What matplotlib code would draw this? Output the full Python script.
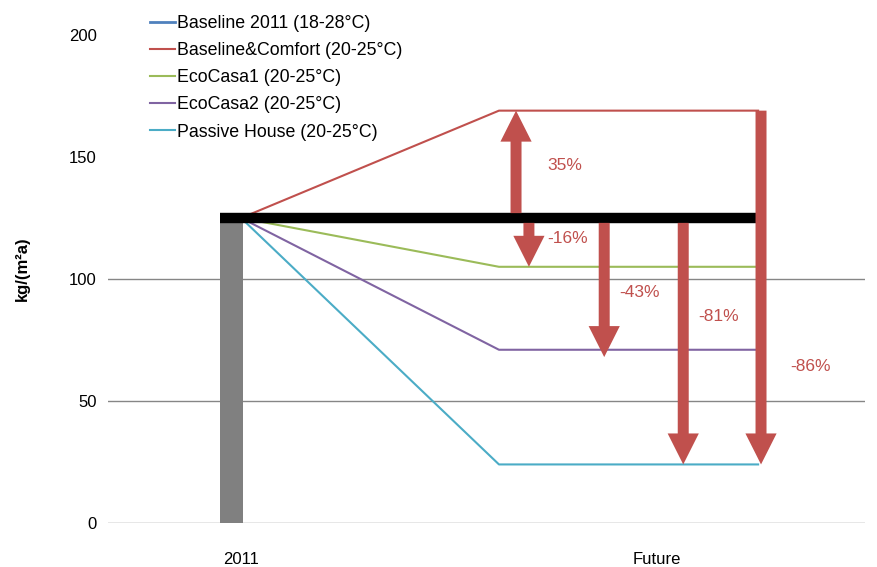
import numpy as np
import matplotlib
matplotlib.use("Agg")
import matplotlib.pyplot as plt

plt.rcParams['font.family'] = ['Liberation Sans', 'DejaVu Sans']

# data
categories   = ["2011", "Future"]
baseline2011 = 125
scenarios    = ["Baseline&Comfort (20-25°C)", "EcoCasa1 (20-25°C)",
                "EcoCasa2 (20-25°C)", "Passive House (20-25°C)"]
future_vals  = [169, 105, 71, 24]
colors       = ["#C0504D", "#9BBB59", "#8064A2", "#4BACC6"]
pct_labels   = ["35%", "-16%", "-43%", "-81%", "-86%"]

red = "#C0504D"

# x layout in category units (2011 = 0, Future = 1)
x_start, x_knee, x_end = 0.0, 0.62, 1.243
arrow_x = [0.661, 0.692, 0.873, 1.063, 1.25]

fig = plt.figure(figsize=(8.77, 5.67), dpi=100)
ax = fig.add_axes([108/877, 1 - 523/567, (865-108)/877, (523-35)/567])
ax.set_xlim(-0.320, 1.500)
ax.set_ylim(0, 200)

for g in [0, 50, 100]:
    ax.axhline(g, color="#868686", lw=1, zorder=0)

# 2011 bar
ax.bar(-0.023, baseline2011, width=0.055, color="#808080", zorder=1)

# legend-only baseline series
ax.plot([x_start], [baseline2011], color="#4F81BD", lw=2, label="Baseline 2011 (18-28°C)")

for name, v, c in zip(scenarios, future_vals, colors):
    ax.plot([x_start, x_knee, x_end], [baseline2011, v, v], color=c, lw=1.5,
            label=name, zorder=2)

# thick baseline bar
ax.plot([-0.05, 1.24], [baseline2011, baseline2011], color="black", lw=7.5,
        solid_capstyle="butt", zorder=3)

# arrows: (start, end)
arrow_se = [(baseline2011 + 2, future_vals[0]),
            (baseline2011 - 2, future_vals[1]),
            (baseline2011 - 2, future_vals[2] - 3),
            (baseline2011 - 2, future_vals[3]),
            (future_vals[0], future_vals[3])]
for x, (y0, y1) in zip(arrow_x, arrow_se):
    ax.arrow(x, y0, 0, y1 - y0, width=0.0264, head_width=0.075, head_length=12.7,
             length_includes_head=True, color=red, lw=0, zorder=4)

text_pos = [(0.779, 146.7), (0.786, 116.8), (0.959, 94.3), (1.147, 84.8), (1.370, 64.3)]
for (tx, ty), t in zip(text_pos, pct_labels):
    ax.text(tx, ty, t, color=red, fontsize=12.5, ha="center", va="center")

ax.set_xticks([0, 1])
ax.set_xticklabels(categories)
ax.set_yticks([0, 50, 100, 150, 200])
ax.tick_params(axis="both", length=0, labelsize=12)
ax.tick_params(axis="x", pad=21)
ax.tick_params(axis="y", pad=8)
for s in ax.spines.values():
    s.set_visible(False)

fig.text(22/877, 1 - 269/567, "kg/(m²a)", rotation=90, fontsize=12,
         fontweight="bold", ha="center", va="center")

ax.legend(loc="upper left", bbox_to_anchor=(150/877, 1 - 15/567),
          bbox_transform=fig.transFigure, frameon=False, fontsize=12.8,
          handlelength=1.4, handletextpad=0.1, borderpad=0, borderaxespad=0,
          labelspacing=0.57)

fig.savefig("out.png", dpi=100)
